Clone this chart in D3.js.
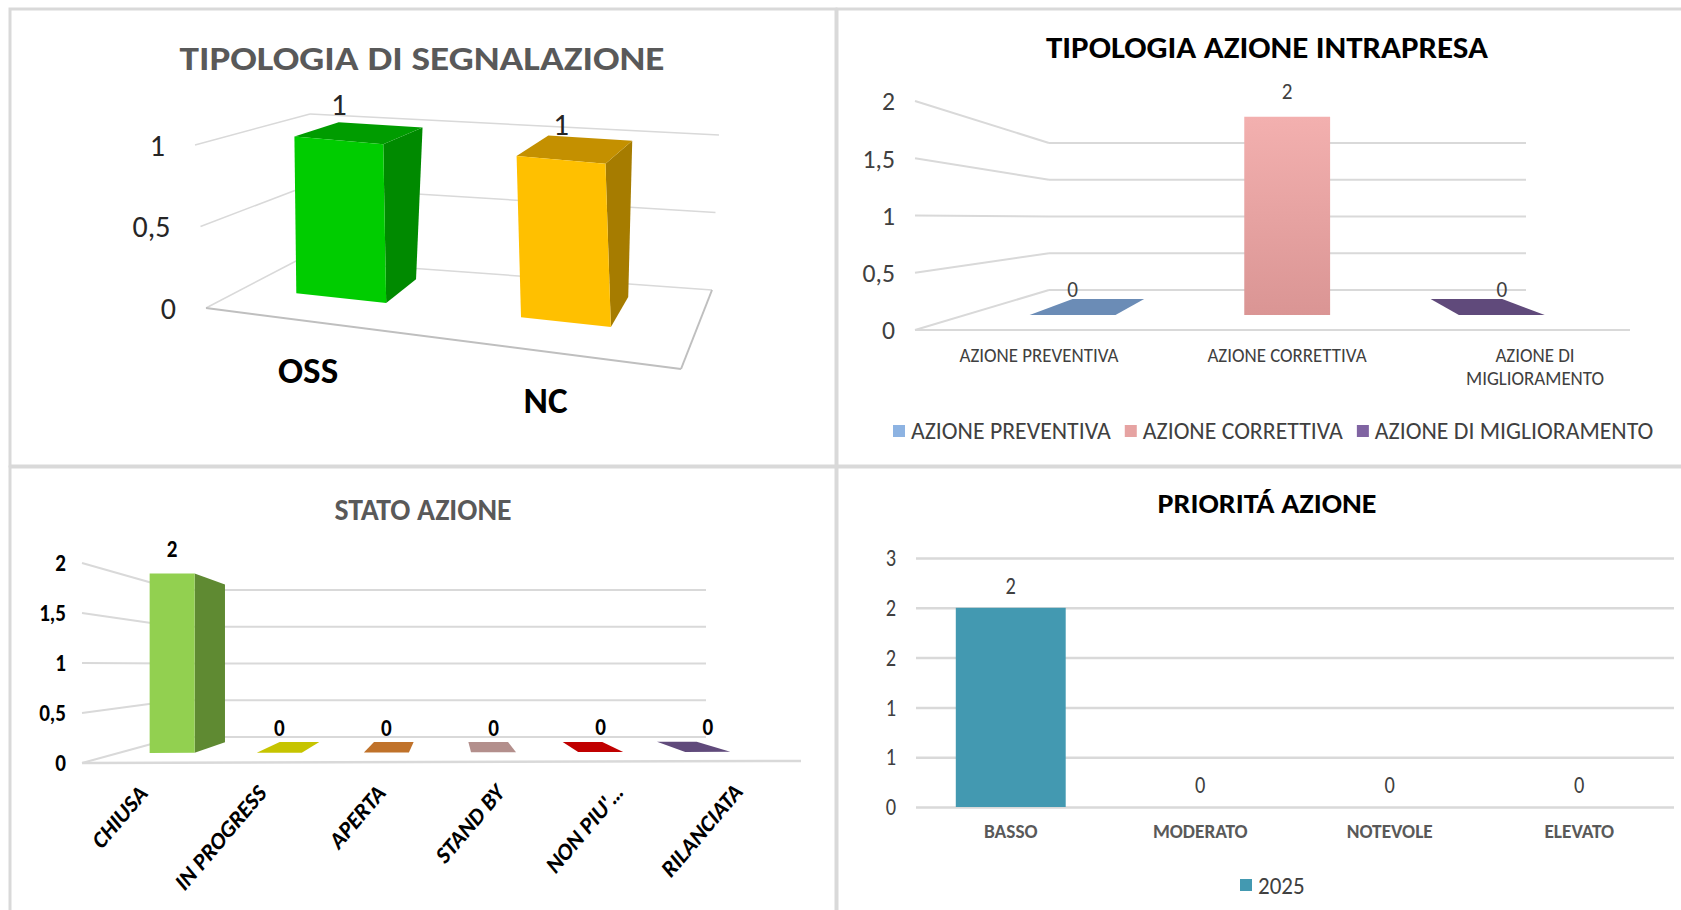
<!DOCTYPE html>
<html>
<head>
<meta charset="utf-8">
<title>cruscotto azioni</title>
<script src="https://cdn.jsdelivr.net/npm/d3@7"></script>
<style>
body { margin: 0; background: #fff; }
svg text { font-family: Carlito, Calibri, Lato, sans-serif; }
</style>
</head>
<body>
<svg id="c" width="1681" height="910"></svg>
<script>
var segnalazioneCat = ["OSS", "NC"];
var segnalazioneVal = [1, 1];
var segnalazioneTicks = [0, 0.5, 1];

var tipologiaCat = ["AZIONE PREVENTIVA", "AZIONE CORRETTIVA", "AZIONE DI MIGLIORAMENTO"];
var tipologiaVal = [0, 2, 0];
var tipologiaTicks = [0, 0.5, 1, 1.5, 2];

var statoCat = ["CHIUSA", "IN PROGRESS", "APERTA", "STAND BY", "NON PIU'…", "RILANCIATA"];
var statoVal = [2, 0, 0, 0, 0, 0];
var statoTicks = [0, 0.5, 1, 1.5, 2];

var prioritaCat = ["BASSO", "MODERATO", "NOTEVOLE", "ELEVATO"];
var prioritaVal = [2, 0, 0, 0];
var prioritaTicks = [0, 0.5, 1, 1.5, 2, 2.5];
var prioritaSerie = "2025";

var fmt = function(d) { return String(d).replace(".", ","); };
var svg = d3.select("#c");
var GRIGIO = "#d9d9d9";

// --- utilità ---
function box(c) {
    // u: sinistra->destra, v: basso->alto, w: davanti->dietro (interpolazione trilineare)
    function lerp(a, b, t) { return [a[0] + (b[0] - a[0]) * t, a[1] + (b[1] - a[1]) * t]; }
    return function(u, v, w) {
        var fb = lerp(c.fbl, c.fbr, u), ft = lerp(c.ftl, c.ftr, u),
            bb = lerp(c.bbl, c.bbr, u), bt = lerp(c.btl, c.btr, u);
        return lerp(lerp(fb, ft, v), lerp(bb, bt, v), w);
    };
}
function linea(g, a, b, col, sw) {
    return g.append("line").attr("x1", a[0]).attr("y1", a[1]).attr("x2", b[0]).attr("y2", b[1])
        .attr("stroke", col).attr("stroke-width", sw);
}
function poligono(g, pts, fill) {
    return g.append("polygon").attr("fill", fill)
        .attr("points", pts.map(function(p) { return p.join(","); }).join(" "));
}
function pareti(g, proj, y, ticks, sw) {
    ticks.forEach(function(t) {
        var v = y(t);
        linea(g, proj(0, v, 0), proj(0, v, 1), GRIGIO, sw);
        linea(g, proj(0, v, 1), proj(1, v, 1), GRIGIO, sw);
    });
}
function barra3d(g, proj, u0, u1, v, w0, w1, col) {
    if (col.side && v > 0) poligono(g, [proj(u1, 0, w0), proj(u1, 0, w1), proj(u1, v, w1), proj(u1, v, w0)], col.side);
    if (col.top) poligono(g, [proj(u0, v, w0), proj(u1, v, w0), proj(u1, v, w1), proj(u0, v, w1)], col.top);
    if (v > 0) poligono(g, [proj(u0, 0, w0), proj(u1, 0, w0), proj(u1, v, w0), proj(u0, v, w0)], col.front);
}
function stringi(sel, k) {
    sel.each(function() {
        var l = this.getComputedTextLength();
        if (l > 0) d3.select(this).attr("textLength", l * k).attr("lengthAdjust", "spacingAndGlyphs");
    });
}
function titolo(x, y, s, size, col, w) {
    svg.append("text").attr("x", x).attr("y", y).attr("text-anchor", "middle")
        .attr("font-size", size).attr("font-weight", "bold").attr("fill", col)
        .attr("textLength", w).attr("lengthAdjust", "spacingAndGlyphs").text(s);
}

// --- cornici ---
var pannelli = [[10, 9, 826, 457], [837, 9, 846, 457], [10, 467, 826, 445], [837, 467, 846, 445]];
svg.selectAll("rect.pan").data(pannelli).enter().append("rect").attr("class", "pan")
    .attr("x", function(d) { return d[0]; }).attr("y", function(d) { return d[1]; })
    .attr("width", function(d) { return d[2]; }).attr("height", function(d) { return d[3]; })
    .attr("fill", "#fff").attr("stroke", GRIGIO).attr("stroke-width", 3);

// ===== 1. TIPOLOGIA DI SEGNALAZIONE =====
(function() {
    var g = svg.append("g");
    var proj = box({fbl: [206, 308], ftl: [195, 145], bbl: [298, 260], btl: [310, 114],
                    fbr: [681, 369], ftr: [665, 197], bbr: [712, 290], btr: [719, 135]});
    var u = d3.scaleBand().domain(segnalazioneCat).range([-0.035, 0.965]).paddingInner(0.6).paddingOuter(0.3);
    var y = d3.scaleLinear().domain([0, 1]).range([0, 1]);
    var w0 = 0.42, w1 = 0.83;
    var colori = [{front: "#00cc00", side: "#008a00", top: "#009c00"},
                  {front: "#ffc000", side: "#a67c00", top: "#c49000"}];

    pareti(g, proj, y, segnalazioneTicks, 1.5);
    linea(g, proj(0, 0, 0), proj(1, 0, 0), "#bfbfbf", 2);
    linea(g, proj(1, 0, 0), proj(1, 0, 1), "#bfbfbf", 2);

    segnalazioneCat.forEach(function(c, i) {
        barra3d(g, proj, u(c), u(c) + u.bandwidth(), y(segnalazioneVal[i]), w0, w1, colori[i]);
    });

    var tl = g.selectAll("text.tick").data(segnalazioneTicks).enter().append("text")
        .attr("x", function(d) { return proj(0, y(d), 0)[0] - 30; })
        .attr("y", function(d) { return proj(0, y(d), 0)[1]; })
        .attr("dy", "0.35em").attr("text-anchor", "end").attr("font-size", 30).attr("fill", "#262626")
        .text(fmt);
    stringi(tl, 1.0);

    var cl = g.selectAll("text.cat").data(segnalazioneCat).enter().append("text")
        .attr("x", function(d) { return proj(u(d) + u.bandwidth() / 2, 0, 0)[0]; })
        .attr("y", function(d) { return proj(u(d) + u.bandwidth() / 2, 0, 0)[1] + 49; })
        .attr("dy", "0.35em").attr("text-anchor", "middle").attr("font-size", 36).attr("font-weight", "bold")
        .attr("fill", "#000").text(function(d) { return d; });
    stringi(cl, 1.03);

    g.selectAll("text.val").data(segnalazioneCat).enter().append("text")
        .attr("x", function(d) { return proj(u(d) + u.bandwidth() / 2, 1, w0)[0]; })
        .attr("y", function(d, i) { return proj(u(d) + u.bandwidth() / 2, y(segnalazioneVal[i]), w0)[1] - 36; })
        .attr("dy", "0.35em").attr("text-anchor", "middle").attr("font-size", 31).attr("fill", "#262626")
        .text(function(d, i) { return fmt(segnalazioneVal[i]); });

    titolo(422, 70, "TIPOLOGIA  DI SEGNALAZIONE", 35, "#595959", 485);
})();

// ===== 2. TIPOLOGIA AZIONE INTRAPRESA =====
(function() {
    var g = svg.append("g");
    var proj = box({fbl: [915, 330], ftl: [915, 101], bbl: [1049, 290], btl: [1049, 143],
                    fbr: [1659, 330], ftr: [1659, 101], bbr: [1526, 290], btr: [1526, 143]});
    var u = d3.scaleBand().domain(tipologiaCat).range([0, 1]).paddingInner(0.6).paddingOuter(0.3);
    var y = d3.scaleLinear().domain([0, 2]).range([0, 1]);
    var w0 = 0.375, w1 = 0.775;
    var legenda = ["#8db3e2", "#e6a3a2", "#8064a2"];
    var piatte = ["#6b8cb6", "#d99594", "#604a7b"];

    var grad = svg.append("defs").append("linearGradient").attr("id", "rosa")
        .attr("x1", 0).attr("y1", 0).attr("x2", 0).attr("y2", 1);
    grad.append("stop").attr("offset", 0).attr("stop-color", "#f3b0af");
    grad.append("stop").attr("offset", 1).attr("stop-color", "#da9594");

    pareti(g, proj, y, tipologiaTicks, 2);
    linea(g, proj(0, 0, 0), proj(0.961, 0, 0), GRIGIO, 2);

    tipologiaCat.forEach(function(c, i) {
        var v = y(tipologiaVal[i]);
        if (v > 0) barra3d(g, proj, u(c), u(c) + u.bandwidth(), v, w0, w1, {front: "url(#rosa)"});
        else barra3d(g, proj, u(c), u(c) + u.bandwidth(), 0, w0, w1, {top: piatte[i]});
    });

    var tl = g.selectAll("text.tick").data(tipologiaTicks).enter().append("text")
        .attr("x", function(d) { return proj(0, y(d), 0)[0] - 20; })
        .attr("y", function(d) { return proj(0, y(d), 0)[1]; })
        .attr("dy", "0.35em").attr("text-anchor", "end").attr("font-size", 27).attr("fill", "#404040")
        .text(fmt);
    stringi(tl, 0.95);

    var dl = g.selectAll("text.val").data(tipologiaCat).enter().append("text")
        .attr("x", function(d) { return proj(u(d) + u.bandwidth() / 2, 0, w0)[0]; })
        .attr("y", function(d, i) { return proj(u(d) + u.bandwidth() / 2, y(tipologiaVal[i]), w0)[1] - 26; })
        .attr("dy", "0.35em").attr("text-anchor", "middle").attr("font-size", 23).attr("fill", "#404040")
        .text(function(d, i) { return fmt(tipologiaVal[i]); });
    stringi(dl, 0.92);

    var righe = [["AZIONE PREVENTIVA"], ["AZIONE CORRETTIVA"], ["AZIONE DI", "MIGLIORAMENTO"]];
    tipologiaCat.forEach(function(c, i) {
        var p = proj(u(c) + u.bandwidth() / 2, 0, 0);
        var t = g.selectAll(null).data(righe[i]).enter().append("text")
            .attr("x", p[0]).attr("y", function(d, j) { return p[1] + 25 + j * 23; })
            .attr("dy", "0.35em").attr("text-anchor", "middle").attr("font-size", 21).attr("fill", "#404040")
            .text(function(d) { return d; });
        stringi(t, 0.9);
    });

    // legenda
    var lx = 893;
    tipologiaCat.forEach(function(c, i) {
        g.append("rect").attr("x", lx).attr("y", 425).attr("width", 12).attr("height", 12).attr("fill", legenda[i]);
        var t = g.append("text").attr("x", lx + 18).attr("y", 431).attr("dy", "0.35em")
            .attr("font-size", 24).attr("fill", "#404040").text(c);
        var l = t.node().getComputedTextLength();
        stringi(t, 0.99);
        lx += 18 + l * 0.99 + 14;
    });

    titolo(1267, 58, "TIPOLOGIA AZIONE INTRAPRESA", 30, "#000", 442);
})();

// ===== 3. STATO AZIONE =====
(function() {
    var g = svg.append("g");
    var proj = box({fbl: [82, 763], ftl: [82, 563], bbl: [177, 737], btl: [177, 590],
                    fbr: [796, 761], ftr: [796, 563], bbr: [706, 737], btr: [706, 590]});
    var u = d3.scaleBand().domain(statoCat).range([0, 1]).paddingInner(0.58).paddingOuter(0.29);
    var y = d3.scaleLinear().domain([0, 2]).range([0, 1]);
    var w0 = 0.385, w1 = 0.8;
    var piatte = ["#92d050", "#c6c400", "#c0722a", "#b38f8c", "#c00000", "#604a7b"];

    pareti(g, proj, y, statoTicks, 2);
    linea(g, proj(0, 0, 0), proj(1.007, 0, 0), GRIGIO, 2.5);

    statoCat.forEach(function(c, i) {
        var v = y(statoVal[i]);
        if (v > 0) barra3d(g, proj, u(c), u(c) + u.bandwidth(), v, w0, w1, {front: "#92d050", side: "#5f8a32"});
        else barra3d(g, proj, u(c), u(c) + u.bandwidth(), 0, w0, w1, {top: piatte[i]});
    });

    var tl = g.selectAll("text.tick").data(statoTicks).enter().append("text")
        .attr("x", function(d) { return proj(0, y(d), 0)[0] - 16; })
        .attr("y", function(d) { return proj(0, y(d), 0)[1]; })
        .attr("dy", "0.35em").attr("text-anchor", "end").attr("font-size", 24).attr("font-weight", "bold")
        .attr("fill", "#000").text(fmt);
    stringi(tl, 0.88);

    var dl = g.selectAll("text.val").data(statoCat).enter().append("text")
        .attr("x", function(d) { return proj(u(d) + u.bandwidth() / 2, 0, w0)[0]; })
        .attr("y", function(d, i) { return proj(u(d) + u.bandwidth() / 2, y(statoVal[i]), w0)[1] - 25; })
        .attr("dy", "0.35em").attr("text-anchor", "middle").attr("font-size", 24).attr("font-weight", "bold")
        .attr("fill", "#000").text(function(d, i) { return fmt(statoVal[i]); });
    stringi(dl, 0.88);

    // etichette inclinate: schiacciate in orizzontale come nell'originale
    g.selectAll("text.cat").data(statoCat).enter().append("text")
        .attr("transform", function(d) {
            var p = proj(u(d) + u.bandwidth() / 2, 0, 0);
            return "translate(" + (p[0] + 7) + "," + (p[1] + 32) + ") scale(0.85,1) rotate(-45)";
        })
        .attr("text-anchor", "end").attr("font-size", 25).attr("font-weight", "bold")
        .attr("fill", "#000").text(function(d) { return d; });

    titolo(423, 520, "STATO AZIONE", 31, "#595959", 177);
})();

// ===== 4. PRIORITÁ AZIONE =====
(function() {
    var g = svg.append("g");
    var x = d3.scaleBand().domain(prioritaCat).range([916, 1674]).paddingInner(0.42).paddingOuter(0.21);
    var y = d3.scaleLinear().domain([0, 2.5]).range([807, 558]);

    var ay = g.append("g").attr("transform", "translate(916,0)")
        .call(d3.axisLeft(y).tickValues(prioritaTicks).tickSize(-758).tickPadding(20)
            .tickFormat(function(d) { return String(Math.round(d)); }));
    ay.select(".domain").remove();
    ay.selectAll("line").attr("stroke", GRIGIO).attr("stroke-width", 2.5);
    ay.selectAll("text").attr("font-size", 24).attr("fill", "#404040")
        .style("font-family", "Carlito, Calibri, Lato, sans-serif");
    stringi(ay.selectAll("text"), 0.85);

    g.selectAll("rect.bar").data(prioritaCat).enter().append("rect")
        .attr("x", function(d) { return x(d); })
        .attr("y", function(d, i) { return y(prioritaVal[i]); })
        .attr("width", x.bandwidth())
        .attr("height", function(d, i) { return y(0) - y(prioritaVal[i]); })
        .attr("fill", "#4399b1");

    var ax = g.append("g").attr("transform", "translate(0,807)")
        .call(d3.axisBottom(x).tickSize(0).tickPadding(16));
    ax.select(".domain").remove();
    ax.selectAll("text").attr("font-size", 21).attr("font-weight", "bold").attr("fill", "#595959")
        .style("font-family", "Carlito, Calibri, Lato, sans-serif");
    stringi(ax.selectAll("text"), 0.92);

    var dl = g.selectAll("text.val").data(prioritaCat).enter().append("text")
        .attr("x", function(d) { return x(d) + x.bandwidth() / 2; })
        .attr("y", function(d, i) { return y(prioritaVal[i]) - 22; })
        .attr("dy", "0.35em").attr("text-anchor", "middle").attr("font-size", 24).attr("fill", "#404040")
        .text(function(d, i) { return prioritaVal[i]; });
    stringi(dl, 0.85);

    g.append("rect").attr("x", 1240).attr("y", 879).attr("width", 12).attr("height", 12).attr("fill", "#4399b1");
    var lt = g.append("text").attr("x", 1258).attr("y", 885).attr("dy", "0.35em").attr("font-size", 25)
        .attr("fill", "#404040").text(prioritaSerie);
    stringi(lt, 0.92);

    titolo(1267, 513, "PRIORITÁ AZIONE", 28, "#000", 219);
})();
</script>
</body>
</html>
